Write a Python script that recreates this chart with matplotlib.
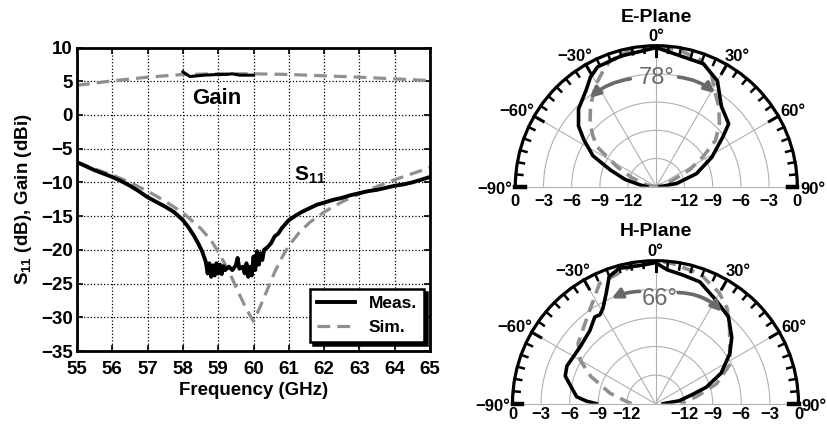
import numpy as np
import matplotlib
matplotlib.use("Agg")
import matplotlib.pyplot as plt

plt.rcParams['font.family'] = ['Liberation Sans', 'DejaVu Sans']
plt.rcParams['font.weight'] = 'bold'
plt.rcParams['mathtext.fontset'] = 'custom'
plt.rcParams['mathtext.rm'] = 'Liberation Sans:bold'
plt.rcParams['mathtext.bf'] = 'Liberation Sans:bold'

# ---- S11 / gain data ----
meas_f = [55.0, 55.25, 55.5, 55.75, 56.0, 56.25, 56.5, 56.75, 57.0, 57.25, 57.5, 57.75,
          58.0, 58.15, 58.3, 58.45, 58.55, 58.65, 58.7, 58.75, 58.8, 58.85, 58.9, 58.95,
          59.0, 59.05, 59.1, 59.15, 59.2, 59.3, 59.4, 59.5, 59.55, 59.6, 59.7, 59.75,
          59.8, 59.85, 59.9, 59.95, 60.0, 60.05, 60.1, 60.15, 60.2, 60.25, 60.3, 60.4,
          60.5, 60.6, 60.7, 60.8, 60.9, 61.0, 61.2, 61.4, 61.6, 61.8, 62.0, 62.25,
          62.5, 62.75, 63.0, 63.25, 63.5, 63.75, 64.0, 64.25, 64.5, 64.75, 65.0]
meas_s11 = [-7.0, -7.6, -8.2, -8.7, -9.2, -9.8, -10.5, -11.3, -12.2, -12.9, -13.6, -14.4,
            -15.6, -16.6, -17.8, -19.2, -20.3, -21.8, -23.5, -22.0, -24.0, -22.3, -23.8, -22.0,
            -23.5, -22.2, -23.6, -22.4, -23.0, -22.5, -23.0, -22.3, -21.2, -22.8, -22.5, -23.5,
            -22.0, -24.0, -22.5, -23.8, -21.0, -23.0, -20.2, -22.2, -20.5, -21.5, -20.0, -19.6,
            -19.0, -18.0, -17.6, -16.8, -16.2, -15.6, -14.9, -14.3, -13.8, -13.3, -13.0, -12.6,
            -12.3, -11.9, -11.6, -11.3, -11.1, -10.8, -10.5, -10.3, -10.0, -9.6, -9.2]

sim_f = [55, 55.5, 56, 56.5, 57, 57.5, 58, 58.5, 58.8, 59, 59.2, 59.4, 59.6, 59.8, 60,
         60.2, 60.4, 60.6, 60.8, 61, 61.3, 61.6, 62, 62.5, 63, 63.5, 64, 64.5, 65]
sim_s11 = [-7.0, -8.0, -8.9, -10.0, -11.3, -12.8, -14.5, -16.8, -18.6, -20.3, -22.2, -24.3,
           -26.6, -28.8, -30.6, -28.3, -25.8, -23.3, -21.2, -19.4, -17.4, -15.9, -14.4, -12.9,
           -11.7, -10.6, -9.6, -8.7, -7.8]

sim_gain_f = [55, 56, 57, 58, 59, 60, 61, 62, 63, 64, 65]
sim_gain = [4.4, 5.05, 5.6, 6.0, 6.1, 6.1, 6.0, 5.8, 5.6, 5.35, 5.1]

meas_gain_f = [58.0, 58.05, 58.2, 58.4, 58.6, 58.8, 59.0, 59.2, 59.4, 59.6, 59.8, 60.0]
meas_gain = [6.4, 6.2, 5.7, 5.8, 5.9, 5.95, 6.0, 6.0, 6.1, 5.9, 5.9, 5.9]

# ---- radiation patterns (angle in deg, level in dB) ----
e_meas_ang = [-90, -84, -77, -70, -64, -57, -52, -45, -36, -31, -26, -15, 0,
              12, 21, 30, 39, 49, 53, 62, 72, 81, 90]
e_meas_db = [-14.0, -13.3, -11.6, -9.8, -7.5, -5.8, -4.5, -3.3, -2.3, -1.4, -0.8, -0.6, -0.2,
             -0.9, -1.0, -2.0, -4.0, -4.8, -6.1, -8.3, -10.5, -12.8, -14.6]
e_sim_ang = [-90, -80, -70, -63, -56, -51, -46, -40, -35, -30, -25, -20, -10, 0,
             10, 19, 26, 31, 38, 45, 52, 57, 63, 72, 90]
e_sim_db = [-15.0, -14.0, -12.3, -10.3, -7.4, -6.3, -5.2, -4.1, -3.2, -2.3, -1.5, -0.7, -0.2, 0.0,
            -0.3, -0.7, -1.6, -3.0, -4.2, -5.5, -7.0, -9.0, -11.0, -13.6, -15.0]

h_meas_ang = [-90, -88, -85, -73, -67, -53, -42, -35, -32, -29, -24, -20, -15, -5, 0,
              5, 12, 20, 30, 40, 49, 56, 65, 72, 76, 83, 90]
h_meas_db = [-8.8, -7.8, -6.7, -5.1, -4.9, -5.1, -4.7, -3.9, -4.0, -3.6, -2.3, -0.8, -0.3, -0.4, -0.2,
             -0.9, -1.2, -1.4, -2.4, -3.1, -4.4, -5.6, -7.4, -9.4, -11.0, -12.5, -14.2]
h_sim_ang = [-90, -86, -77, -67, -60, -52, -38, -25, -9, 0,
             7, 19, 30, 37, 45, 55, 62, 72, 80, 90]
h_sim_db = [-12.5, -12.0, -10.1, -7.6, -5.9, -4.7, -3.4, -1.1, -0.3, 0.0,
            -0.2, -0.6, -1.6, -2.5, -4.0, -5.5, -6.1, -8.3, -10.6, -12.4]

# half-power beam widths
e_bw = '78°'
h_bw = '66°'

grey = '#8f8f8f'
W, H = 827, 424
fig = plt.figure(figsize=(8.27, 4.24), dpi=100)

# ================= left plot =================
ax = fig.add_axes([77 / W, 1 - 351 / H, 353 / W, 303.5 / H])
ax.plot(sim_gain_f, sim_gain, color=grey, lw=2.3, dashes=(4, 2.2))
ax.plot(sim_f, sim_s11, color=grey, lw=2.3, dashes=(4, 2.2), label='Sim.')
ax.plot(meas_gain_f, meas_gain, color='k', lw=2.2)
ax.plot(meas_f, meas_s11, color='k', lw=2.8, label='Meas.')
ax.set_xlim(55, 65)
ax.set_ylim(-35, 10)
ax.set_xticks(range(55, 66))
ax.set_yticks(range(-35, 11, 5))
ax.grid(True, ls=':', color='k', lw=0.9)
ax.tick_params(direction='in', length=4, width=1.2, top=True, right=True, labelsize=13.5)
ax.tick_params(axis='x', pad=7)
ax.tick_params(axis='y', pad=3)
for s in ax.spines.values():
    s.set_linewidth(2)
ax.set_xlabel('Frequency (GHz)', fontsize=13.5, fontweight='bold', labelpad=3)
ax.set_ylabel(r'$\mathbf{S_{11}}$ (dB), Gain (dBi)', fontsize=13.5, fontweight='bold', labelpad=5)
ax.text(58.97, 2.4, 'Gain', fontsize=16, fontweight='bold', ha='center', va='center')
ax.text(61.15, -8.9, r'$\mathbf{S_{11}}$', fontsize=15, ha='left', va='center')
h, l = ax.get_legend_handles_labels()
leg = ax.legend([h[1], h[0]], ['Meas.', 'Sim.'], loc='lower right', bbox_to_anchor=(0.983, 0.03),
                borderaxespad=0, fontsize=12.5, fancybox=False, framealpha=1,
                edgecolor='k', handlelength=2.2, shadow={'color': 'k', 'alpha': 1})
leg.get_frame().set_linewidth(1.8)


def polar_panel(cx, cy, R, title, title_y, lab_off, m_ang, m_db, s_ang, s_db, bw, bw_pos, arr_l, arr_r):
    # a half-disc wedge is centred inside a square box of side 2R
    top = cy - 1.5 * R
    pa = fig.add_axes([(cx - R) / W, 1 - (top + 2 * R) / H, 2 * R / W, 2 * R / H],
                      projection='polar')
    pa.set_theta_zero_location('N')
    pa.set_theta_direction(-1)
    pa.set_thetamin(-90)
    pa.set_thetamax(90)
    pa.set_ylim(0, 15)
    pa.set_xticks([])
    pa.set_yticks([])
    pa.grid(False)
    pa.patch.set_alpha(0)
    pa.spines['polar'].set_linewidth(2.3)
    for k in ['start', 'end']:
        pa.spines[k].set_color('#b0b0b0')
        pa.spines[k].set_linewidth(0.8)

    th = np.deg2rad(np.linspace(-90, 90, 181))
    for rr in [3, 6, 9, 12]:
        pa.plot(th, np.full_like(th, rr), color='#b0b0b0', lw=0.8)
    for a in [-60, -30, 0, 30, 60]:
        pa.plot([np.deg2rad(a)] * 2, [0, 15], color='#b0b0b0', lw=0.8)
    # rim ticks every 5 degrees, pointing inward
    for a in range(-90, 91, 5):
        if abs(a) == 90:
            pa.plot([np.deg2rad(a)] * 2, [14.0, 15], color='k', lw=3.2, clip_on=False, zorder=3)
        elif a % 30 == 0:
            pa.plot([np.deg2rad(a)] * 2, [13.9, 15], color='k', lw=2.2, clip_on=False, zorder=3)
        else:
            pa.plot([np.deg2rad(a)] * 2, [14.3, 15], color='k', lw=1.8, clip_on=False, zorder=3)

    pa.plot(np.deg2rad(s_ang), np.array(s_db) + 15, color=grey, lw=2.6, dashes=(3.5, 2))
    pa.plot(np.deg2rad(m_ang), np.array(m_db) + 15, color='k', lw=2.6)

    # angle labels
    pa.annotate('0°', (0, 15), xytext=(0, 1), textcoords='offset points',
                ha='center', va='bottom', fontsize=12)
    for a, rr, s in [(-32, 16.3, '−30°'), (32, 16.3, '30°'), (-61.7, 16.8, '−60°'), (61.3, 16.6, '60°')]:
        pa.text(np.deg2rad(a), rr, s, ha='center', va='center', fontsize=12)
    pa.annotate('−90°', (np.deg2rad(-90), 15), xytext=(-2, -2), textcoords='offset points',
                ha='right', va='center', fontsize=12)
    pa.annotate('90°', (np.deg2rad(90), 15), xytext=(2, -2), textcoords='offset points',
                ha='left', va='center', fontsize=12)
    for side in [-90, 90]:
        for rr, s in [(15, '0'), (12, '−3'), (9, '−6'), (6, '−9'), (3, '−12')]:
            pa.annotate(s, (np.deg2rad(side), rr), xytext=(0, lab_off), textcoords='offset points',
                        ha='center', va='center', fontsize=12)

    # beamwidth annotation
    pa.text(np.deg2rad(bw_pos[0]), bw_pos[1], bw, ha='center', va='center',
            fontsize=17, fontweight='normal', color='#6a6a6a')
    for (a0, r0, a1, r1, rad) in [arr_l, arr_r]:
        pa.annotate('', xy=(np.deg2rad(a1), r1), xytext=(np.deg2rad(a0), r0),
                    arrowprops=dict(arrowstyle='-|>', color='#6a6a6a', lw=2.6,
                                    mutation_scale=15, shrinkA=0, shrinkB=0,
                                    connectionstyle='arc3,rad=%s' % rad))
    fig.text(cx / W, title_y, title, ha='center', va='center', fontsize=14)
    return pa


polar_panel(656.3, 186.7, 141, 'E-Plane', 1 - 17.5 / H, -11,
            e_meas_ang, e_meas_db, e_sim_ang, e_sim_db, e_bw, (0, 11.56),
            (-13.5, 11.8, -36.8, 11.8, 0.15), (11.5, 11.9, 32, 11.75, -0.15))
polar_panel(655.5, 403.7, 143, 'H-Plane', 1 - 232 / H, -7.5,
            h_meas_ang, h_meas_db, h_sim_ang, h_sim_db, h_bw, (2.5, 11.0),
            (-8, 11.9, -22.6, 11.97, 0.1), (11.5, 11.9, 35.7, 11.9, -0.2))

fig.savefig('out.png', dpi=100)
